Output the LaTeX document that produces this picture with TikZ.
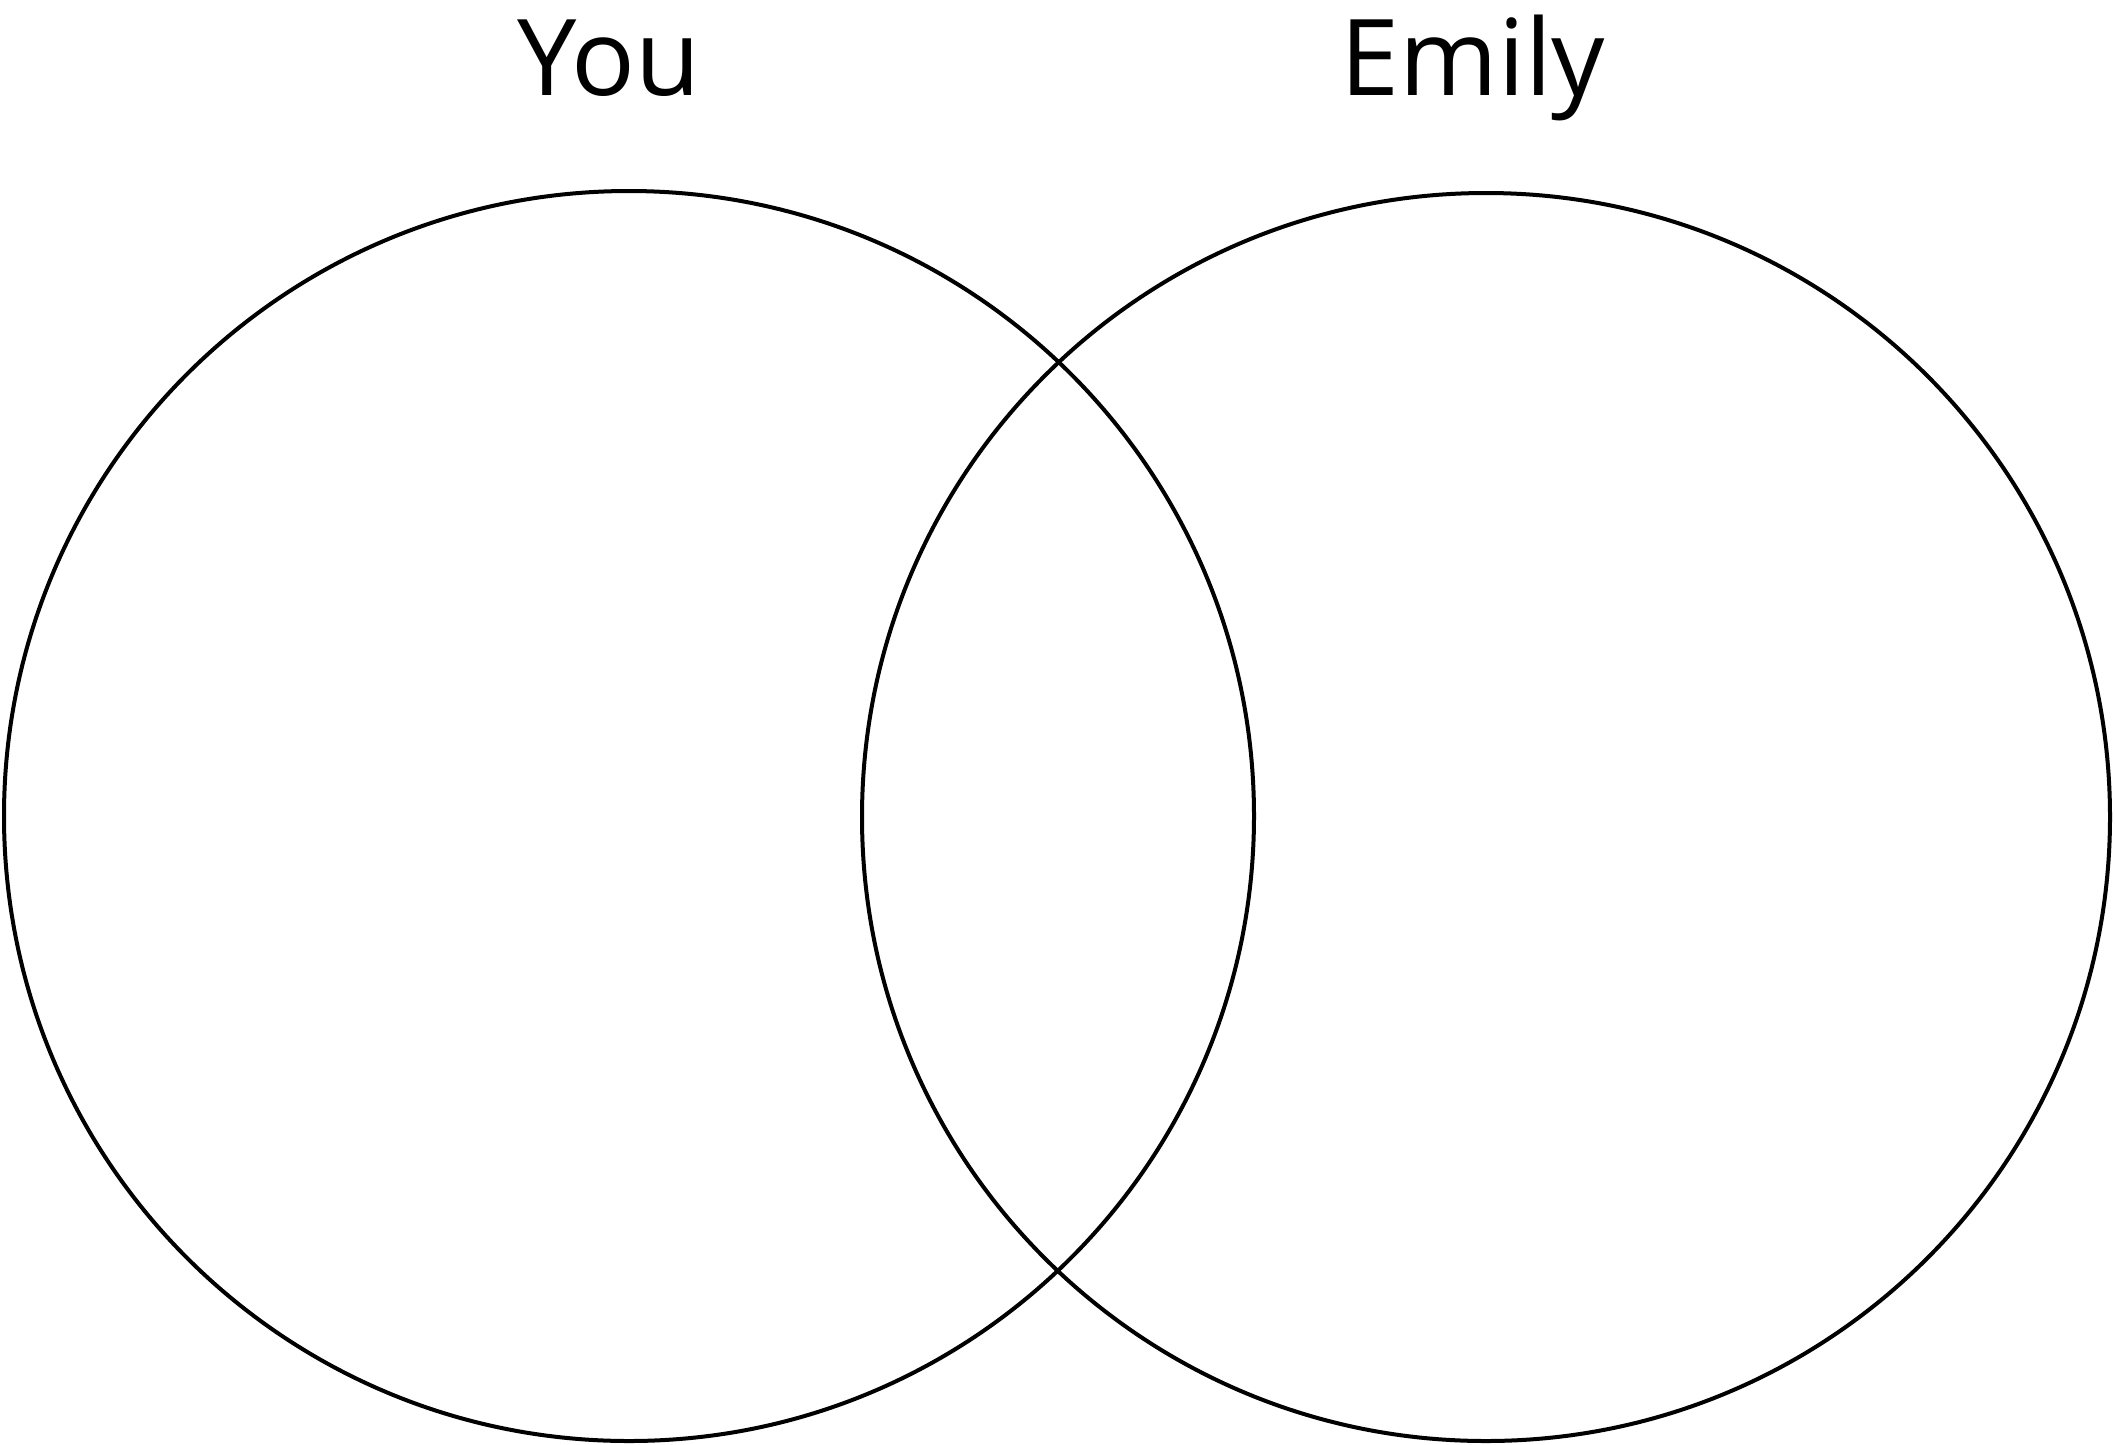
\documentclass[tikz,border=0pt]{standalone}
\usepackage{fontspec}
\setmainfont{Open Sans}
\begin{document}
\begin{tikzpicture}
[x=1pt,y=-1pt,line width=4pt,inner sep=0pt]
\useasboundingbox (0,0) rectangle (2115,1444);
\path (629,816) node (you) [shape=circle,draw,minimum size=1250pt] {}
(1486,817) node (emily) [shape=circle,draw,minimum size=1248pt] {}
(609,95) node (youlabel) [anchor=base] {\fontsize{106}{120}\selectfont You}
(1473,95) node (emilylabel) [anchor=base] {\fontsize{106}{120}\selectfont Emily};
\end{tikzpicture}
\end{document}
